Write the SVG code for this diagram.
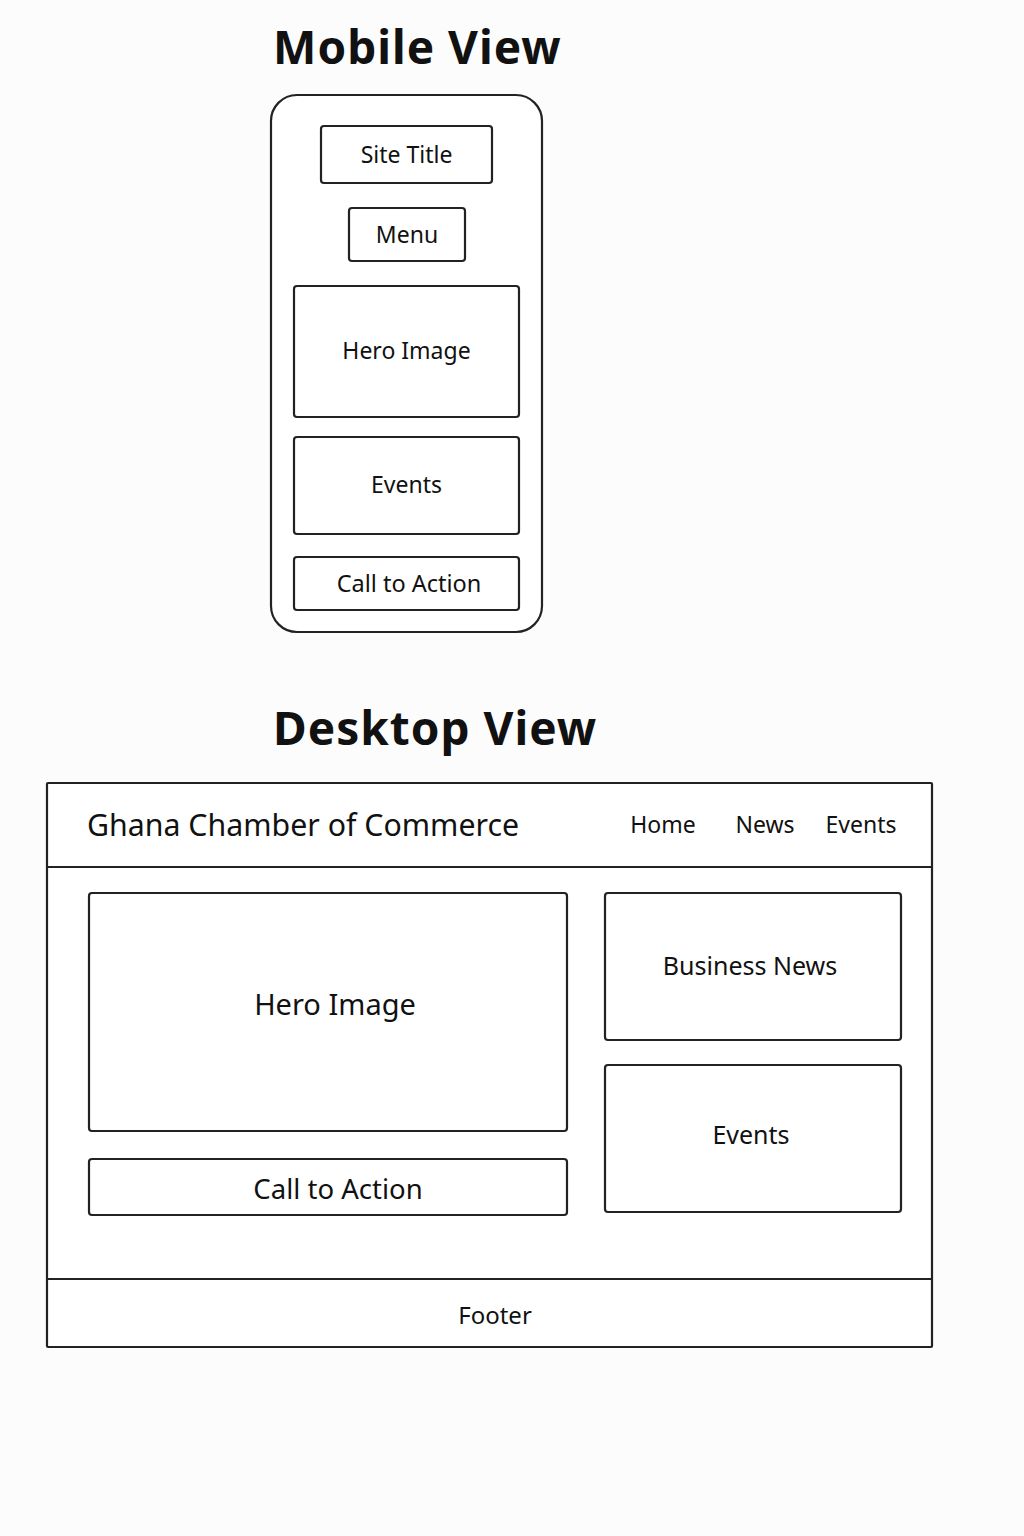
<svg xmlns="http://www.w3.org/2000/svg" width="1024" height="1536" viewBox="0 0 1024 1536">
<style>
.box{fill:#fff;stroke:#222;stroke-width:2.2}
.ln{stroke:#222;stroke-width:2.2}
.t{font-family:"Noto Sans","Open Sans",sans-serif;fill:#111;text-anchor:middle;dominant-baseline:central}
.h{font-family:"Noto Sans","Open Sans",sans-serif;font-weight:bold;fill:#111;font-size:46px;letter-spacing:1px}
</style>
<rect x="0" y="0" width="1024" height="1536" fill="#fcfcfc"/>
<text class="h" x="273" y="64">Mobile View</text>
<g id="mobile-frame"><rect class="box" x="271" y="95" width="271" height="537" rx="26"/></g>
<g id="m-site-title"><rect class="box" x="321" y="126" width="171" height="57" rx="3"/><text class="t" x="406.5" y="153.5" font-size="23">Site Title</text></g>
<g id="m-menu"><rect class="box" x="349" y="208" width="116" height="53" rx="3"/><text class="t" x="407" y="234" font-size="23">Menu</text></g>
<g id="m-hero"><rect class="box" x="294" y="286" width="225" height="131" rx="3"/><text class="t" x="406.5" y="350" font-size="23">Hero Image</text></g>
<g id="m-events"><rect class="box" x="294" y="437" width="225" height="97" rx="3"/><text class="t" x="406.5" y="484" font-size="23">Events</text></g>
<g id="m-cta"><rect class="box" x="294" y="557" width="225" height="53" rx="3"/><text class="t" x="409" y="582.5" font-size="23.5">Call to Action</text></g>
<text class="h" x="273" y="745">Desktop View</text>
<g id="desktop-frame"><rect class="box" x="47" y="783" width="885" height="564" rx="1"/><line class="ln" x1="47" y1="867" x2="932" y2="867"/><line class="ln" x1="47" y1="1279" x2="932" y2="1279"/></g>
<g id="d-header"><text class="t" x="87" y="824" font-size="30.3" style="text-anchor:start">Ghana Chamber of Commerce</text><text class="t" x="663" y="824" font-size="23">Home</text><text class="t" x="765" y="824" font-size="23">News</text><text class="t" x="861" y="824" font-size="23">Events</text></g>
<g id="d-hero"><rect class="box" x="89" y="893" width="478" height="238" rx="3"/><text class="t" x="335" y="1003" font-size="29">Hero Image</text></g>
<g id="d-cta"><rect class="box" x="89" y="1159" width="478" height="56" rx="3"/><text class="t" x="338" y="1188" font-size="27.5">Call to Action</text></g>
<g id="d-news"><rect class="box" x="605" y="893" width="296" height="147" rx="3"/><text class="t" x="750" y="965" font-size="25">Business News</text></g>
<g id="d-events"><rect class="box" x="605" y="1065" width="296" height="147" rx="3"/><text class="t" x="751" y="1134" font-size="25">Events</text></g>
<g id="d-footer"><text class="t" x="495" y="1314" font-size="24">Footer</text></g>
<g id="connectors"></g>
</svg>
